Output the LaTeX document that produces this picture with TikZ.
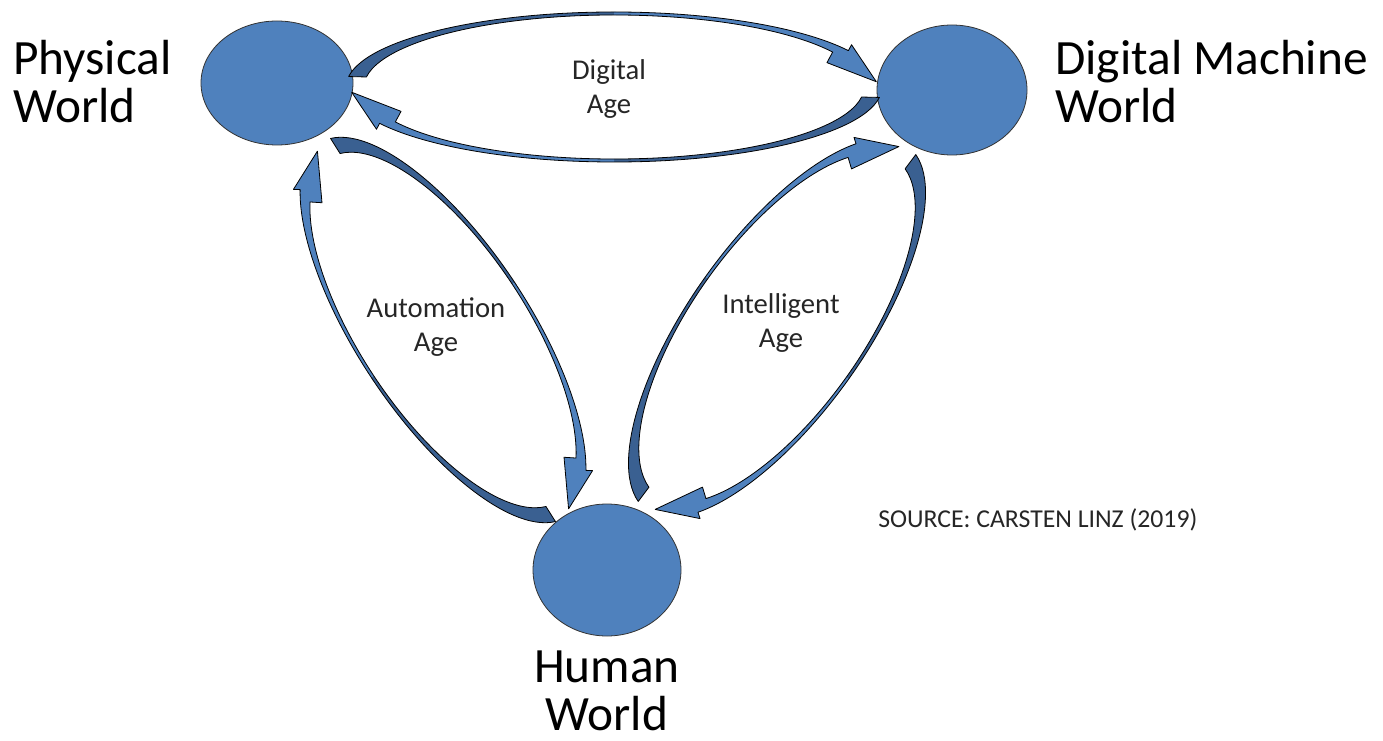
\documentclass[tikz,border=0pt]{standalone}
\usepackage{fontspec}
\setmainfont{Carlito}
\usetikzlibrary{calc,shapes.geometric}

\definecolor{ageblue}{RGB}{79,129,189}
\definecolor{agedark}{RGB}{58,96,145}

\tikzset{
  worldcircle/.style={ellipse, draw=black!80, line width=0.6pt, fill=ageblue, inner sep=0pt},
  worldlabel/.style={font=\fontsize{37pt}{36pt}\selectfont, inner sep=0pt},
  agelabel/.style={font=\fontsize{21.5pt}{25pt}\selectfont, align=center, inner sep=0pt, text=black!85},
  sourcelabel/.style={font=\fontsize{19.3pt}{22pt}\selectfont, inner sep=0pt, text=black!85},
  arrowline/.style={draw=black, line width=0.6pt, line join=round},
}

% one curved arrow of an age loop, in the loop's own frame (tail at left, head at right)
\newcommand{\agearrow}[2]{%
  \pgfmathsetmacro\ain{#1-18}%
  \pgfmathsetmacro\bin{#2-3}%
  % dark tail half
  \fill[agedark] ({#1*cos(-172)},{#2*sin(-172)})
    arc[start angle=-172, end angle=-90, x radius=#1, y radius=#2]
    -- (0,{-\bin})
    arc[start angle=-90, end angle=-172, x radius=\ain, y radius=\bin] -- cycle;
  % light head half
  \fill[ageblue] (0,{-#2})
    arc[start angle=-90, end angle=-29, x radius=#1, y radius=#2]
    -- ($({#1*cos(-29)},{#2*sin(-29)})!5pt!-90:({#1*cos(-27)},{#2*sin(-27)})$)
    -- ({(#1-5)*cos(-4)},{#2*sin(-4)})
    -- ($({\ain*cos(-29)},{\bin*sin(-29)})!9pt!90:({\ain*cos(-27)},{\bin*sin(-27)})$)
    -- ({\ain*cos(-29)},{\bin*sin(-29)})
    arc[start angle=-29, end angle=-90, x radius=\ain, y radius=\bin] -- cycle;
  % outline
  \draw[arrowline] ({#1*cos(-172)},{#2*sin(-172)})
    arc[start angle=-172, end angle=-29, x radius=#1, y radius=#2]
    -- ($({#1*cos(-29)},{#2*sin(-29)})!5pt!-90:({#1*cos(-27)},{#2*sin(-27)})$)
    -- ({(#1-5)*cos(-4)},{#2*sin(-4)})
    -- ($({\ain*cos(-29)},{\bin*sin(-29)})!9pt!90:({\ain*cos(-27)},{\bin*sin(-27)})$)
    -- ({\ain*cos(-29)},{\bin*sin(-29)})
    arc[start angle=-29, end angle=-172, x radius=\ain, y radius=\bin] -- cycle;
}

\begin{document}
\begin{tikzpicture}[x=0.75pt,y=0.75pt,yscale=-1,xscale=1]
\path[use as bounding box, fill=white] (0,0) rectangle (1383,741);

%Shape: Ellipse (the three worlds)
\node[worldcircle, minimum width=114pt, minimum height=93pt] (physical) at (277,83) {};
\node[worldcircle, minimum width=112.5pt, minimum height=97.5pt] (digital) at (952,90) {};
\node[worldcircle, minimum width=111pt, minimum height=99pt] (human) at (607,570) {};

%Curved Arrows: Digital Age loop
\begin{scope}[shift={(614,87)}]
  \agearrow{268}{75}
  \begin{scope}[rotate=180] \agearrow{268}{75} \end{scope}
\end{scope}
%Curved Arrows: Automation Age loop
\begin{scope}[shift={(443,330)}, rotate=56.5]
  \agearrow{224}{86}
  \begin{scope}[rotate=180] \agearrow{224}{86} \end{scope}
\end{scope}
%Curved Arrows: Intelligent Age loop
\begin{scope}[shift={(777,328)}, rotate=-54.5]
  \agearrow{224}{88}
  \begin{scope}[rotate=180] \agearrow{224}{88} \end{scope}
\end{scope}

% Text Node
\node[worldlabel, anchor=west, align=left] (physicallabel) at (13,82) {Physical\\World};
% Text Node
\node[worldlabel, anchor=west, align=left] (digitallabel) at (1055,82) {Digital Machine\\World};
% Text Node
\node[worldlabel, align=center] (humanlabel) at (607,691) {Human\\World};
% Text Node
\node[agelabel] (digitalage) at (609,89) {Digital\\Age};
% Text Node
\node[agelabel] (automationage) at (436,327) {Automation\\Age};
% Text Node
\node[agelabel] (intelligentage) at (781,323) {Intelligent\\Age};
% Text Node
\node[sourcelabel, anchor=west] (source) at (878,520) {SOURCE: CARSTEN LINZ (2019)};

\end{tikzpicture}
\end{document}
